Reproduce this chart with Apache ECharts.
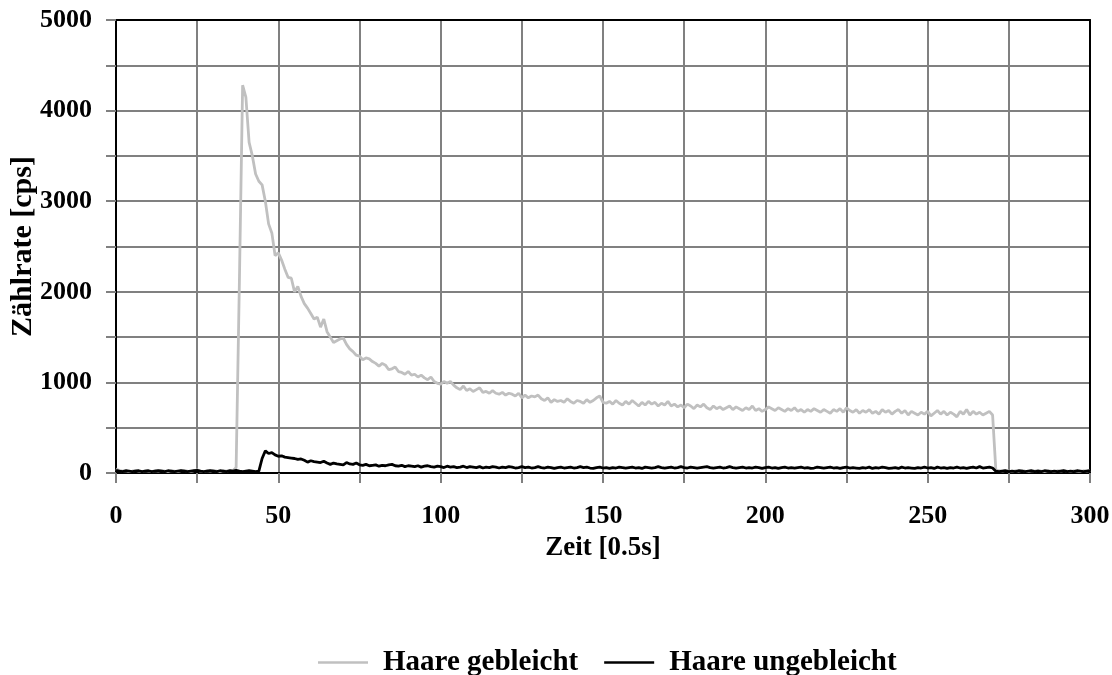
<!doctype html>
<html lang="de">
    <head>
        <meta charset="UTF-8">
        <title>Zählrate</title>
        <style>
            html, body { margin: 0; padding: 0; background: #fff; }
            #main { width: 1112px; height: 675px; }
        </style>
    </head>
    <body>
        <div id="main"></div>
        <script src="https://cdn.jsdelivr.net/npm/echarts@6/dist/echarts.min.js"></script>
        <script type="text/javascript">
        // Messwerte, ein Wert pro Zeitschritt (0 .. 300)
        var haareGebleicht = [
            45, 30, 20, 25, 15, 20, 30, 20, 15, 25,
            20, 15, 25, 20, 30, 20, 15, 25, 20, 15,
            25, 30, 20, 15, 25, 35, 20, 15, 25, 20,
            30, 20, 15, 25, 20, 30, 25, 60, 2100, 4280,
            4150, 3650, 3500, 3300, 3220, 3180, 3000, 2750, 2650, 2400,
            2430, 2350, 2250, 2160, 2150, 2000, 2060, 1950, 1870, 1820,
            1760, 1700, 1720, 1610, 1700, 1560, 1500, 1440, 1460, 1480,
            1490, 1420, 1370, 1340, 1300, 1290, 1250, 1270, 1260, 1230,
            1210, 1180, 1210, 1190, 1140, 1150, 1170, 1120, 1110, 1090,
            1120, 1080, 1090, 1060, 1080, 1050, 1030, 1060, 1010, 990,
            980, 1010, 990, 1010, 970, 940, 920, 960, 910, 930,
            900, 920, 940, 890, 900, 880, 910, 880, 870, 890,
            860, 880, 870, 850, 880, 830, 860, 830, 850, 840,
            860, 820, 800, 830, 780, 810, 790, 800, 780, 820,
            790, 770, 800, 790, 770, 810, 780, 800, 830, 850,
            780, 770, 790, 760, 800, 770, 750, 790, 760, 800,
            770, 740, 780, 750, 790, 760, 780, 740, 770, 750,
            790, 740, 760, 730, 750, 720, 760, 740, 710, 750,
            730, 760, 720, 700, 740, 710, 730, 700, 720, 740,
            700, 730, 710, 690, 720, 700, 740, 690, 710, 680,
            700, 730, 710, 690, 720, 700, 680, 710, 690, 720,
            680, 700, 670, 700, 680, 710, 690, 670, 700, 680,
            660, 700, 680, 710, 670, 720, 690, 670, 700, 660,
            690, 670, 700, 660, 680, 650, 700, 670, 690, 650,
            680, 700, 660, 690, 640, 680, 660, 640, 670, 650,
            680, 630, 660, 690, 650, 680, 640, 670, 650, 620,
            680, 650, 700, 640, 680, 650, 670, 640, 660, 680,
            640, 35, 25, 20, 30, 20, 15, 25, 20, 30,
            20, 15, 25, 20, 30, 20, 15, 25, 20, 15,
            25, 20, 30, 20, 15, 25, 20, 15, 25, 20, 30
        ];
        var haareUngebleicht = [
            30, 20, 15, 25, 20, 15, 20, 25, 15, 20,
            25, 15, 20, 25, 20, 15, 25, 20, 15, 20,
            25, 20, 15, 20, 25, 30, 20, 15, 20, 25,
            20, 15, 25, 20, 15, 25, 20, 30, 20, 15,
            20, 25, 20, 15, 20, 160, 245, 215, 225, 200,
            185, 190, 175, 170, 165, 160, 150, 155, 140, 120,
            135, 125, 120, 115, 130, 110, 95, 110, 100, 95,
            90, 115, 100, 95, 110, 90, 85, 95, 80, 85,
            90, 75, 85, 80, 90, 95, 80, 75, 85, 70,
            80, 75, 70, 80, 65, 75, 80, 70, 65, 75,
            70, 60, 75, 65, 70, 60, 65, 75, 60, 70,
            65, 60, 70, 55, 65, 60, 70, 65, 55, 65,
            60, 70, 65, 55, 60, 70, 60, 65, 55, 60,
            70, 60, 55, 65, 60, 50, 60, 65, 55, 60,
            65, 55, 60, 70, 60, 65, 55, 50, 60, 65,
            55, 60, 50, 60, 55, 65, 60, 55, 60, 65,
            55, 60, 50, 65, 60, 55, 60, 70, 60, 55,
            60, 65, 55, 60, 70, 60, 55, 65, 60, 55,
            60, 65, 70, 60, 55, 60, 65, 55, 60, 70,
            60, 55, 60, 65, 55, 60, 55, 65, 60, 50,
            60, 65, 55, 60, 50, 60, 65, 55, 60, 55,
            60, 65, 55, 60, 50, 55, 65, 60, 55, 60,
            65, 55, 60, 50, 60, 65, 55, 60, 55, 50,
            60, 55, 65, 50, 60, 55, 65, 60, 50, 55,
            60, 50, 65, 55, 60, 55, 50, 60, 55, 65,
            55, 60, 50, 65, 55, 60, 50, 60, 55, 65,
            55, 60, 50, 60, 65, 55, 70, 55, 60, 65,
            55, 20, 15, 20, 25, 15, 20, 15, 25, 20,
            15, 20, 25, 15, 20, 15, 25, 20, 15, 20,
            15, 20, 25, 15, 20, 15, 25, 20, 15, 20, 25
        ];
        var serienNamen = ['Haare gebleicht', 'Haare ungebleicht'];
        var xAchsenName = 'Zeit [0.5s]';
        var yAchsenName = 'Zählrate [cps]';

        var schrift = '"Liberation Serif", "Times New Roman", serif';

        function punkte(werte) {
            return werte.map(function (v, i) { return [i, v]; });
        }

        var myChart = echarts.init(document.getElementById('main'));

        var option = {
            animation: false,
            backgroundColor: '#fff',
            textStyle: { fontFamily: schrift },
            grid: {
                left: 116,
                right: 22,
                top: 20,
                bottom: 202,
                containLabel: false,
                outerBoundsMode: 'none'
            },
            legend: {
                data: serienNamen,
                top: 643,
                left: 313,
                icon: 'rect',
                itemWidth: 50,
                itemHeight: 2.5,
                itemGap: 26,
                textStyle: {
                    fontFamily: schrift,
                    fontWeight: 'bold',
                    fontSize: 29,
                    color: '#000',
                    padding: [0, 0, 0, 10]
                }
            },
            xAxis: [
                {
                    type: 'value',
                    min: 0,
                    max: 300,
                    interval: 25,
                    name: xAchsenName,
                    nameLocation: 'middle',
                    nameGap: 62,
                    nameMoveOverlap: false,
                    nameTextStyle: {
                        fontFamily: schrift,
                        fontWeight: 'bold',
                        fontSize: 27,
                        color: '#000'
                    },
                    axisLine: { lineStyle: { color: '#000', width: 2 } },
                    axisTick: { show: true, length: 10, lineStyle: { color: '#808080', width: 2 } },
                    axisLabel: {
                        margin: 30,
                        fontFamily: schrift,
                        fontWeight: 'bold',
                        fontSize: 26,
                        color: '#000',
                        formatter: function (v) { return v % 50 === 0 ? String(v) : ''; }
                    },
                    splitLine: { show: true, lineStyle: { color: '#808080', width: 2 } }
                },
                {
                    // oberer Rahmen
                    type: 'value',
                    position: 'top',
                    min: 0,
                    max: 300,
                    axisLine: { show: true, onZero: false, lineStyle: { color: '#000', width: 2 } },
                    axisTick: { show: false },
                    axisLabel: { show: false },
                    splitLine: { show: false }
                }
            ],
            yAxis: [
                {
                    type: 'value',
                    min: 0,
                    max: 5000,
                    interval: 500,
                    name: yAchsenName,
                    nameLocation: 'middle',
                    nameGap: 78,
                    nameMoveOverlap: false,
                    nameTextStyle: {
                        fontFamily: schrift,
                        fontWeight: 'bold',
                        fontSize: 30,
                        color: '#000'
                    },
                    axisLine: { show: true, lineStyle: { color: '#000', width: 2 } },
                    axisTick: { show: true, length: 10, lineStyle: { color: '#808080', width: 2 } },
                    axisLabel: {
                        margin: 24,
                        fontFamily: schrift,
                        fontWeight: 'bold',
                        fontSize: 26,
                        color: '#000',
                        formatter: function (v) { return v % 1000 === 0 ? String(v) : ''; }
                    },
                    splitLine: { show: true, lineStyle: { color: '#808080', width: 2 } }
                },
                {
                    // rechter Rahmen
                    type: 'value',
                    position: 'right',
                    min: 0,
                    max: 5000,
                    axisLine: { show: true, onZero: false, lineStyle: { color: '#000', width: 2 } },
                    axisTick: { show: false },
                    axisLabel: { show: false },
                    splitLine: { show: false }
                }
            ],
            series: [
                {
                    name: serienNamen[0],
                    type: 'line',
                    showSymbol: false,
                    symbol: 'none',
                    color: '#c0c0c0',
                    lineStyle: { color: '#c0c0c0', width: 2.8 },
                    data: punkte(haareGebleicht)
                },
                {
                    name: serienNamen[1],
                    type: 'line',
                    showSymbol: false,
                    symbol: 'none',
                    color: '#000',
                    lineStyle: { color: '#000', width: 2.8 },
                    data: punkte(haareUngebleicht)
                }
            ]
        };

        myChart.setOption(option);
        </script>
    </body>
</html>
